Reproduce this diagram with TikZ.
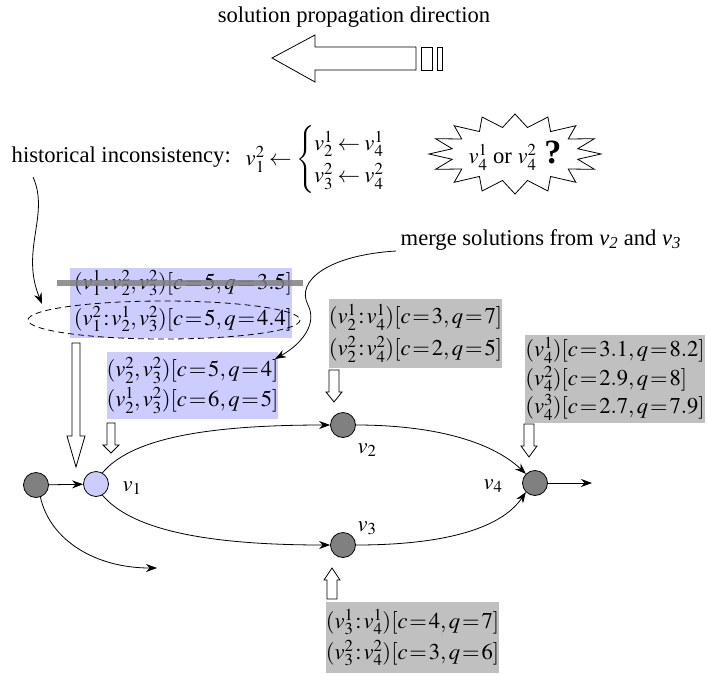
\documentclass[tikz,border=0pt]{standalone}
\usepackage{amsmath}
\usepackage{mathptmx}
\usepackage{fontspec}
\setmainfont{Liberation Serif}
\usetikzlibrary{arrows.meta,positioning}

\definecolor{nodegray}{HTML}{808080}
\definecolor{boxgray}{HTML}{C0C0C0}
\definecolor{boxblue}{HTML}{CCCCFF}

% tighter math, like an equation editor
\thickmuskip=1.5mu
\medmuskip=1mu

% hollow block arrow: x, tail y, neck y, tip y, half shaft, half head
\newcommand{\hollowarrow}[6]{%
  \draw[fill=white] ({#1-#5},#2) -- ({#1-#5},#3) -- ({#1-#6},#3) -- (#1,#4)
    -- ({#1+#6},#3) -- ({#1+#5},#3) -- ({#1+#5},#2) -- cycle;}

\tikzset{
  gnode/.style={circle,draw,fill=nodegray,minimum size=25pt,inner sep=0pt},
  bnode/.style={gnode,fill=boxblue},
  graybox/.style={fill=boxgray,inner sep=0pt,align=left},
  bluebox/.style={fill=boxblue,inner sep=0pt,align=center},
  flow/.style={-{Stealth[length=11pt,width=8pt]}},
  strike/.style={draw=nodegray,line width=6pt,opacity=0.85},
}

\begin{document}
\begin{tikzpicture}[x=1pt,y=-1pt,line width=0.8pt,font=\fontsize{22.6}{27}\selectfont]
\useasboundingbox (0,0) rectangle (707,673);
% ---- direction of propagation ----
\node (title) at (354,17) {solution propagation direction};
\draw (272,58) -- (315,35) -- (315,47) -- (416,47) -- (416,70) -- (315,70) -- (315,82) -- cycle;
\draw (421,47) rectangle (432,70);
\draw (437,47) rectangle (442,70);
% ---- the inconsistency ----
\node[anchor=west] (hist) at (8,157) {historical inconsistency:};
\node[anchor=west] (conflict) at (242,160)
  {$v_1^2 \,\leftarrow\, \begin{cases} v_2^1 \,\leftarrow\, v_4^1\\ v_3^2 \,\leftarrow\, v_4^2 \end{cases}$};
\draw[fill=white] (601,154) \foreach \a in {0,22.5,...,337.5}{
    -- ({515+86*cos(\a)},{154+40*sin(\a)}) -- ({515+64*cos(\a+11.25)},{154+27*sin(\a+11.25)})} -- cycle;
\node (which) at (515,156) {$v_4^1$ or $v_4^2$\hspace{8pt}{\fontsize{34}{34}\selectfont\bfseries ?}};
% ---- solutions at v1 ----
\node[bluebox,minimum width=222,minimum height=70] (hbox) at (181,303) {};
\node (old) at (183,283) {$(v_1^1 : v_2^2, v_3^2)[c=5,q=3.5]$};
\draw[strike] ([xshift=-13pt]old.west) -- ([xshift=7pt]old.east);
\node (new) at (183,319) {$(v_1^2 : v_2^1, v_3^2)[c=5,q=4.4]$};
\draw[dashed,dash pattern=on 6pt off 4pt] (164,320) ellipse (136 and 19);
\node[bluebox,minimum width=169,minimum height=67] (mbox) at (192.5,385.5)
  {$(v_2^2, v_3^2)[c=5,q=4]$\\[3pt]$(v_2^1, v_3^2)[c=6,q=5]$};
\node[anchor=west] (merge) at (397,240)
  {merge solutions from \textit{v}\textsubscript{\textit{2}} and \textit{v}\textsubscript{\textit{3}}};
% ---- solutions at v2, v3, v4 ----
\node[graybox,minimum width=167,minimum height=69] (box2) at (415.5,333.5)
  {$(v_2^1 : v_4^1)[c=3,q=7]$\\[5pt]$(v_2^2 : v_4^2)[c=2,q=5]$};
\node[graybox,minimum width=180,minimum height=88] (box4) at (615,379)
  {$(v_4^1)[c=3.1,q=8.2]$\\[1.5pt]$(v_4^2)[c=2.9,q=8]$\\[1.5pt]$(v_4^3)[c=2.7,q=7.9]$};
\node[graybox,minimum width=171,minimum height=71] (box3) at (412.5,637.5)
  {$(v_3^1 : v_4^1)[c=4,q=7]$\\[4pt]$(v_3^2 : v_4^2)[c=3,q=6]$};
% ---- the graph ----
\node[gnode] (v0) at (36,485) {};
\node[bnode] (v1) at (96,484) {};
\node[gnode] (v2) at (343,425) {};
\node[gnode] (v3) at (343,545) {};
\node[gnode] (v4) at (535,483) {};
\node (l1) at (132,488) {$v_1$};
\node (l2) at (367,450) {$v_2$};
\node (l3) at (367,528) {$v_3$};
\node (l4) at (493,486) {$v_4$};
\coordinate (out) at (592,483);
\coordinate (drop) at (157,568);
\draw[flow] (v0) -- (v1);
\draw[flow] (v1.60) .. controls (130,440) and (200,425) .. (v2.west);
\draw[flow] (v1.-60) .. controls (130,528) and (200,545) .. (v3.west);
\draw[flow] (v2.east) .. controls (430,425) and (490,440) .. (v4.135);
\draw[flow] (v3.east) .. controls (440,545) and (500,530) .. (v4.-135);
\draw[flow] (v4) -- (out);
\draw[flow] (v0.-70) .. controls (50,540) and (95,568) .. (drop);
% ---- pointers ----
\coordinate (hfrom) at (33,177);
\coordinate (hto) at (42,304);
\draw[flow] (hfrom) .. controls (50,215) and (20,250) .. (hto);
\coordinate (mfrom) at (396,251);
\coordinate (mto) at (275,359);
\draw[flow] (mfrom) .. controls (330,255) and (295,280) .. (308,305) .. controls (318,325) and (300,345) .. (mto);
\hollowarrow{76}{343}{436}{467}{4}{9}
\hollowarrow{111}{423}{445}{453}{4}{8}
\hollowarrow{334}{370}{392}{402}{5}{8}
\hollowarrow{529}{424}{446}{457}{5}{8}
\hollowarrow{332}{599}{580}{568}{5}{8}
\end{tikzpicture}
\end{document}
